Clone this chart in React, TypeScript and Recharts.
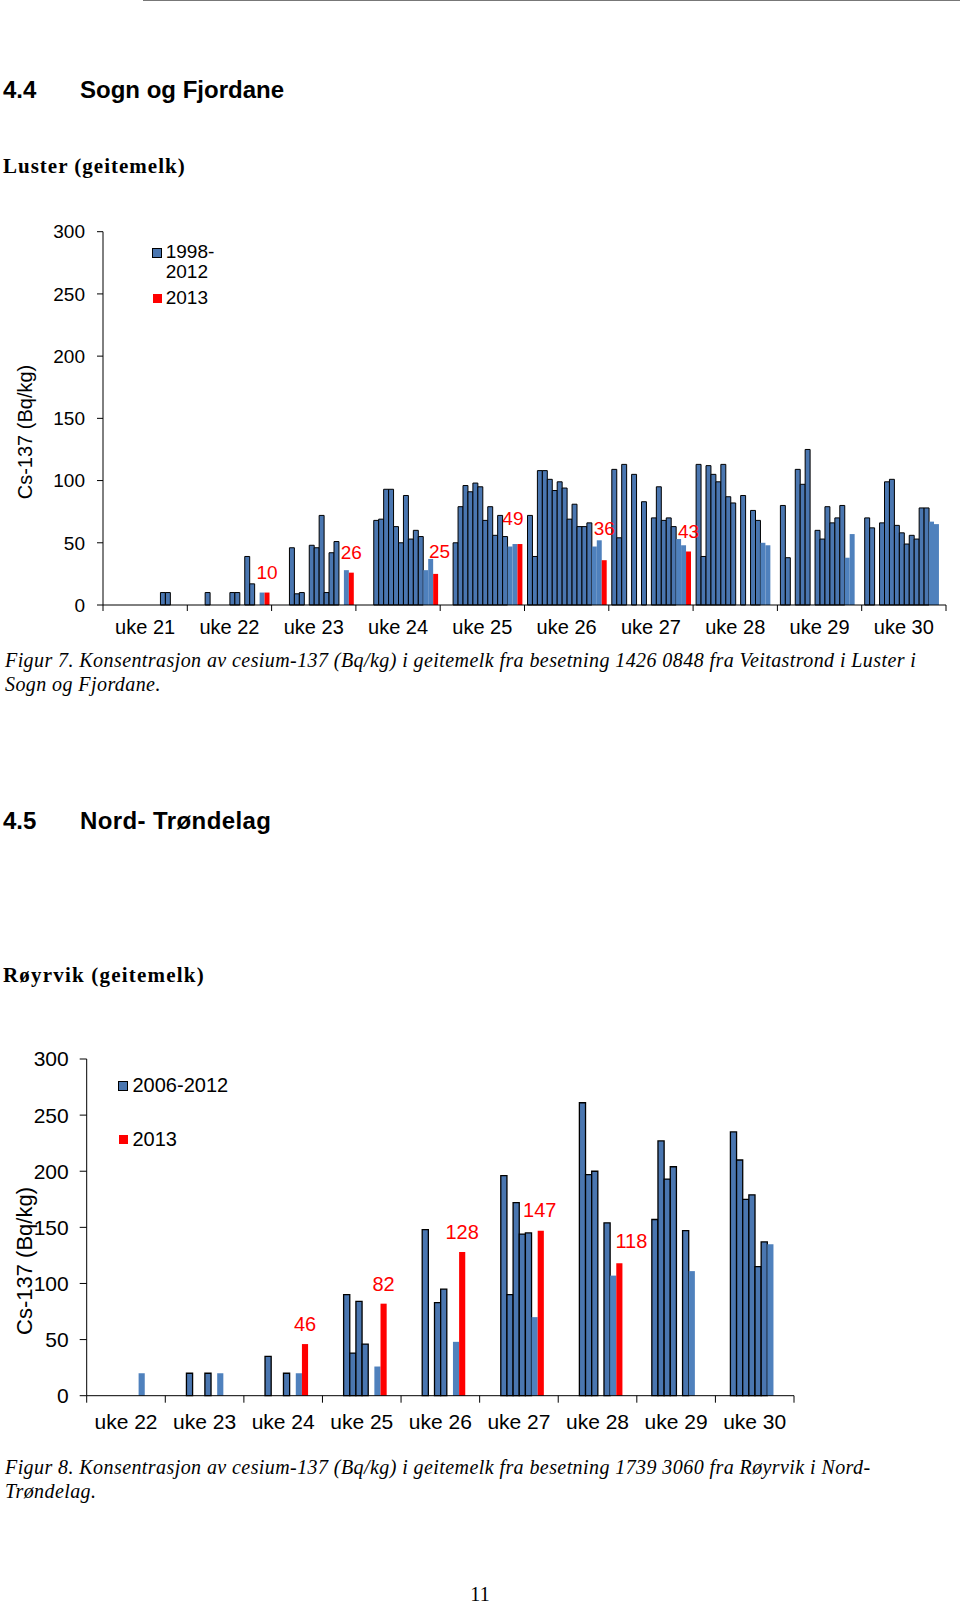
import React from 'react';
import { BarChart, Bar, XAxis, YAxis, Legend, LabelList } from 'recharts';

// ---------- Chart 1: Luster (geitemelk) ----------
const weeksTop = ['uke 21', 'uke 22', 'uke 23', 'uke 24', 'uke 25', 'uke 26', 'uke 27', 'uke 28', 'uke 29', 'uke 30'];
const yearsTop = ['1998', '1999', '2000', '2001', '2002', '2003', '2004', '2005', '2006', '2007', '2008', '2009', '2010', '2011', '2012', '2013'];
const t1998 = [null, null, null, null, null, 72, 109, 113, 80, 70];
const t1999 = [null, null, null, null, null, 39, 54, 39, 38, 62];
const t2000 = [null, null, null, null, 50, 108, 113, 112, null, null];
const t2001 = [null, 10, 46, 68, 79, 108, null, 105, 109, 66];
const t2002 = [null, null, 9, 69, 96, 101, 105, 99, 97, 99];
const t2003 = [null, null, 10, 93, 91, 92, null, 113, 125, 101];
const t2004 = [null, null, null, 93, 98, 99, 83, 87, null, 64];
const t2005 = [null, null, 48, 63, 95, 94, null, 82, 60, 58];
const t2006 = [null, 10, 46, 50, 68, 69, 70, null, 53, 49];
const t2007 = [null, 10, 72, 88, 79, 81, 95, 88, 79, 56];
const t2008 = [null, null, 10, 53, 56, 63, 68, null, 66, 53];
const t2009 = [10, 39, 42, 60, 72, 63, 70, 76, 70, 78];
const t2010 = [10, 17, 51, 55, 55, 66, 63, 68, 80, 78];
const t2011 = [null, null, null, 28, 47, 47, 53, 50, 38, 67];
const t2012 = [null, 10, 28, 37, 49, 52, 48, 48, 57, 65];
const t2013 = [null, 10, 26, 25, 49, 36, 43, null, null, null];
const seriesTop = [t1998, t1999, t2000, t2001, t2002, t2003, t2004, t2005, t2006, t2007, t2008, t2009, t2010, t2011, t2012, t2013];

// ---------- Chart 2: Røyrvik (geitemelk) ----------
const weeksBottom = ['uke 22', 'uke 23', 'uke 24', 'uke 25', 'uke 26', 'uke 27', 'uke 28', 'uke 29', 'uke 30'];
const yearsBottom = ['2006', '2007', '2008', '2009', '2010', '2011', '2012', '2013'];
const b2006 = [null, null, null, null, null, null, null, 157, 235];
const b2007 = [null, 20, 35, 90, 148, 196, 261, 227, 210];
const b2008 = [null, null, null, 38, null, 90, 197, 193, 175];
const b2009 = [null, null, null, 84, 83, 172, 200, 204, 179];
const b2010 = [null, 20, 20, 46, 95, 144, null, null, 115];
const b2011 = [null, null, null, null, null, 145, 154, 147, 137];
const b2012 = [20, 20, 20, 26, 48, 70, 107, 111, 135];
const b2013 = [null, null, 46, 82, 128, 147, 118, null, null];
const seriesBottom = [b2006, b2007, b2008, b2009, b2010, b2011, b2012, b2013];

const yTicks = [0, 50, 100, 150, 200, 250, 300];

// label nudges (style only): [dx, dy] per week
const topLabelNudge: Record<string, [number, number]> = {
  'uke 22': [0, -1], 'uke 23': [0, -1], 'uke 24': [4, -3], 'uke 25': [-7, -6], 'uke 26': [0, -12],
};
const botLabelNudge: Record<string, [number, number]> = {
  'uke 27': [-1, -1], 'uke 28': [12, -2],
};

const topData = weeksTop.map((w, i) => {
  const row: any = { week: w };
  yearsTop.forEach((y, j) => { row['y' + y] = seriesTop[j][i]; });
  return row;
});
const bottomData = weeksBottom.map((w, i) => {
  const row: any = { week: w };
  yearsBottom.forEach((y, j) => { row['y' + y] = seriesBottom[j][i]; });
  return row;
});

const SANS = '"Liberation Sans", Arial, sans-serif';
const SERIF = '"Liberation Serif", "Times New Roman", serif';
const DARK = '#4A76B0';
const LIGHT = '#4F81BD';
const RED = '#FF0000';

const makeXTick = (bw: number, n: number, tickLen: number, fontSize: number, dy: number) => (props: any) => {
  const { x, y, payload, index } = props;
  return (
    <g>
      <line x1={x - bw / 2} y1={y} x2={x - bw / 2} y2={y + tickLen} stroke="#000" strokeWidth={1} />
      {index === n - 1 && (
        <line x1={x + bw / 2} y1={y} x2={x + bw / 2} y2={y + tickLen} stroke="#000" strokeWidth={1} />
      )}
      <text x={x} y={y + dy} textAnchor="middle" fontSize={fontSize} fill="#000" fontFamily={SANS}>
        {payload.value}
      </text>
    </g>
  );
};

const makeLabel = (weeks: string[], values: Array<number | null>, nudges: Record<string, [number, number]>, fontSize: number, offset: number) => (props: any) => {
  const { x, y, width, value } = props;
  if (value === null || value === undefined) return null;
  const wi = values.findIndex((v) => v === Number(value));
  const [dx, dy] = (wi >= 0 && nudges[weeks[wi]]) || [0, 0];
  return (
    <text x={Number(x) + Number(width) / 2 + dx} y={Number(y) - offset + dy} textAnchor="middle"
      fill={RED} fontSize={fontSize} fontFamily={SANS}>
      {value}
    </text>
  );
};

const TopLegend = () => (
  <div style={{ position: 'relative', width: 90, height: 70, fontFamily: SANS, fontSize: 19, color: '#000' }}>
    <div style={{ position: 'absolute', left: 0, top: 4, width: 8, height: 8, background: DARK, border: '1px solid #000' }} />
    <div style={{ position: 'absolute', left: 14, top: -2.5, lineHeight: '20px', whiteSpace: 'nowrap' }}>1998-<br />2012</div>
    <div style={{ position: 'absolute', left: 1, top: 50, width: 9, height: 9, background: RED }} />
    <div style={{ position: 'absolute', left: 14, top: 44, lineHeight: '20px', whiteSpace: 'nowrap' }}>2013</div>
  </div>
);

const BottomLegend = () => (
  <div style={{ position: 'relative', width: 120, height: 80, fontFamily: SANS, fontSize: 20, color: '#000' }}>
    <div style={{ position: 'absolute', left: 0, top: 6, width: 8, height: 8, background: DARK, border: '1px solid #000' }} />
    <div style={{ position: 'absolute', left: 14.5, top: -1.5, lineHeight: '22px', whiteSpace: 'nowrap' }}>2006-2012</div>
    <div style={{ position: 'absolute', left: 1, top: 60, width: 9, height: 9, background: RED }} />
    <div style={{ position: 'absolute', left: 14.5, top: 53, lineHeight: '22px', whiteSpace: 'nowrap' }}>2013</div>
  </div>
);

const abs = (left: number, top: number, extra: any = {}) => ({ position: 'absolute' as const, left, top, whiteSpace: 'nowrap' as const, ...extra });
const captionStyle = { fontFamily: SERIF, fontStyle: 'italic', fontSize: 20, lineHeight: '24px', letterSpacing: 0.42 };

export default function App() {
  const topBw = (960 - 103 - 14) / weeksTop.length;
  const botBw = (960 - 86.7 - 166) / weeksBottom.length;
  const TopTick = makeXTick(topBw, weeksTop.length, 6, 20, 29);
  const BotTick = makeXTick(botBw, weeksBottom.length, 7, 21, 33);
  const TopLabel = makeLabel(weeksTop, t2013, topLabelNudge, 19, 13);
  const BotLabel = makeLabel(weeksBottom, b2013, botLabelNudge, 20, 13);

  return (
    <div style={{ position: 'absolute', left: 0, top: 0, width: 960, height: 1605, background: '#fff', color: '#000' }}>
      <div style={{ position: 'absolute', left: 143, top: 0, width: 817, height: 1, background: '#777' }} />

      {/* Section 4.4 */}
      <div style={abs(3, 75, { fontFamily: SANS, fontWeight: 'bold', fontSize: 24, lineHeight: '30px' })}>4.4</div>
      <div style={abs(80, 75, { fontFamily: SANS, fontWeight: 'bold', fontSize: 24, lineHeight: '30px' })}>Sogn og Fjordane</div>
      <div style={abs(3, 152, { fontFamily: SERIF, fontWeight: 'bold', fontSize: 21, letterSpacing: 1, lineHeight: '28px' })}>Luster (geitemelk)</div>

      <div style={abs(25, 431.5, { fontFamily: SANS, fontSize: 20, transform: 'translate(-50%, -50%) rotate(-90deg)' })}>Cs-137 (Bq/kg)</div>

      <div style={{ position: 'absolute', left: 0, top: 200 }}>
        <BarChart width={960} height={460} data={topData} margin={{ top: 31.7, right: 14, bottom: 15, left: 0 }} barGap={0} barSize={4.95}>
          <XAxis dataKey="week" interval={0} height={40} tickSize={0} tickMargin={0} tickLine={false}
            axisLine={{ stroke: '#000' }} tick={TopTick} />
          <YAxis width={103} domain={[0, 300]} ticks={yTicks} interval={0} tickSize={6} tickMargin={12}
            axisLine={{ stroke: '#000' }} tickLine={{ stroke: '#000' }}
            tick={{ fontSize: 19, fill: '#000', fontFamily: SANS }} />
          <Legend layout="horizontal" align="center" verticalAlign="middle" content={() => <TopLegend />}
            wrapperStyle={{ left: 151.7, top: 44, width: 90, height: 70 }} />
          {yearsTop.map((y) => {
            const isRed = y === '2013';
            const isLight = y === '2011' || y === '2012';
            return (
              <Bar key={y} dataKey={'y' + y} isAnimationActive={false}
                fill={isRed ? RED : isLight ? LIGHT : DARK}
                stroke={isRed || isLight ? 'none' : '#000'} strokeWidth={1}>
                {isRed && <LabelList dataKey={'y' + y} content={TopLabel} />}
              </Bar>
            );
          })}
        </BarChart>
      </div>

      <div style={abs(5, 648, captionStyle)}>
        Figur 7. Konsentrasjon av cesium-137 (Bq/kg) i geitemelk fra besetning 1426 0848 fra Veitastrond i Luster i
      </div>
      <div style={abs(5, 672, captionStyle)}>
        Sogn og Fjordane.
      </div>

      {/* Section 4.5 */}
      <div style={abs(3, 806, { fontFamily: SANS, fontWeight: 'bold', fontSize: 24, lineHeight: '30px' })}>4.5</div>
      <div style={abs(80, 806, { fontFamily: SANS, fontWeight: 'bold', fontSize: 24, lineHeight: '30px', letterSpacing: 0.4 })}>Nord- Trøndelag</div>
      <div style={abs(3, 961, { fontFamily: SERIF, fontWeight: 'bold', fontSize: 21, letterSpacing: 1.2, lineHeight: '28px' })}>Røyrvik (geitemelk)</div>

      <div style={abs(25, 1261, { fontFamily: SANS, fontSize: 22, transform: 'translate(-50%, -50%) rotate(-90deg)' })}>Cs-137 (Bq/kg)</div>

      <div style={{ position: 'absolute', left: 0, top: 1020 }}>
        <BarChart width={960} height={440} data={bottomData} margin={{ top: 39, right: 166, bottom: 20.3, left: 0 }} barGap={0} barSize={6.15}>
          <XAxis dataKey="week" interval={0} height={44} tickSize={0} tickMargin={0} tickLine={false}
            axisLine={{ stroke: '#000' }} tick={BotTick} />
          <YAxis width={86.7} domain={[0, 300]} ticks={yTicks} interval={0} tickSize={7} tickMargin={11}
            axisLine={{ stroke: '#000' }} tickLine={{ stroke: '#000' }}
            tick={{ fontSize: 21, fill: '#000', fontFamily: SANS }} />
          <Legend layout="horizontal" align="center" verticalAlign="middle" content={() => <BottomLegend />}
            wrapperStyle={{ left: 118, top: 55, width: 120, height: 80 }} />
          {yearsBottom.map((y) => {
            const isRed = y === '2013';
            const isLight = y === '2012';
            return (
              <Bar key={y} dataKey={'y' + y} isAnimationActive={false}
                fill={isRed ? RED : isLight ? LIGHT : DARK}
                stroke={isRed || isLight ? 'none' : '#000'} strokeWidth={1.3}>
                {isRed && <LabelList dataKey={'y' + y} content={BotLabel} />}
              </Bar>
            );
          })}
        </BarChart>
      </div>

      <div style={abs(5, 1455, captionStyle)}>
        Figur 8. Konsentrasjon av cesium-137 (Bq/kg) i geitemelk fra besetning 1739 3060 fra Røyrvik i Nord-
      </div>
      <div style={abs(5, 1479, captionStyle)}>
        Trøndelag.
      </div>

      <div style={abs(480, 1581.6, { fontFamily: SERIF, fontSize: 20, lineHeight: '24px', transform: 'translateX(-50%)' })}>11</div>
    </div>
  );
}
